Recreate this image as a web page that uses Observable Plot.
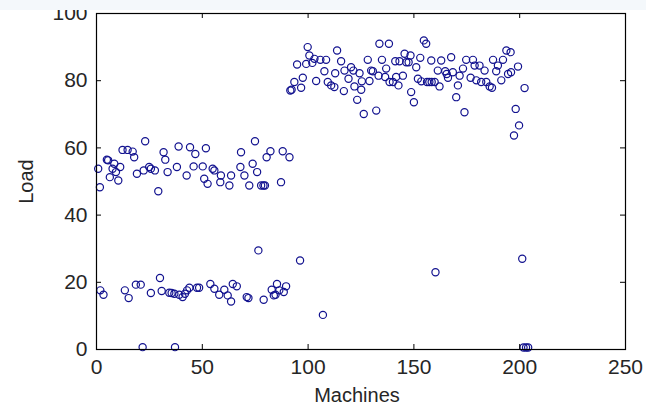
<!DOCTYPE html>
<html>
<head>
<meta charset="utf-8">
<script src="https://cdn.jsdelivr.net/npm/d3@7"></script>
<script src="https://cdn.jsdelivr.net/npm/@observablehq/plot@0.6"></script>
<style>
  html, body { margin: 0; padding: 0; background: #fff; }
  #chart { position: relative; width: 646px; height: 409px; overflow: hidden; }
  #chart svg { display: block; }
  #band { position: absolute; left: 0; top: 0; width: 646px; height: 10px; background: #f4f8fb; }
</style>
</head>
<body>
<div id="chart"></div>
<script>
// Tick values on each axis
const machineTicks = [0, 50, 100, 150, 200, 250];
const loadTicks = [0, 20, 40, 60, 80, 100];

// [machine, load] pairs, grouped by load level
const midBand = [
  [0.8, 53.8], [1.6, 48.3], [4.9, 56.5], [5.5, 56.3], [6.3, 51.3], [7.6, 53.8], [8.4, 55.3],
  [9.2, 52.8], [10.3, 50.3], [11.2, 54.3], [12.3, 59.4], [14.7, 59.4], [17.1, 58.9], [17.8, 57.2],
  [19.1, 52.3], [22.3, 53.3], [23.0, 62.0], [24.9, 54.3], [25.7, 53.8], [27.6, 53.3], [29.2, 47.1],
  [31.7, 58.7], [32.5, 56.5], [33.6, 52.8], [38.0, 54.3], [38.8, 60.4], [42.6, 51.8], [44.2, 60.2],
  [45.9, 54.5], [46.7, 58.2], [50.2, 54.5], [50.9, 50.8], [51.7, 59.9], [52.5, 49.3], [54.9, 53.8],
  [55.7, 53.3], [58.8, 51.8], [58.5, 49.8], [62.8, 48.8], [63.6, 51.8], [68.0, 54.3], [68.3, 58.7],
  [69.9, 51.8], [72.2, 48.8], [73.8, 55.3], [74.9, 62.0], [75.9, 52.8], [77.8, 48.8], [78.9, 48.8],
  [79.6, 48.8], [80.4, 57.2], [82.2, 59.0], [87.2, 49.8], [88.0, 59.0], [91.2, 57.2]
];

const lowBand = [
  [1.8, 17.6], [3.3, 16.3], [13.4, 17.6], [15.2, 15.3], [18.6, 19.3], [20.9, 19.3], [25.7, 16.8],
  [30.0, 21.3], [30.8, 17.4], [34.4, 16.9], [35.5, 16.8], [36.8, 16.6], [39.1, 16.3], [40.7, 15.6],
  [41.8, 16.6], [42.8, 17.6], [43.9, 18.4], [47.5, 18.4], [48.5, 18.4], [53.8, 19.5], [55.7, 18.1],
  [58.0, 16.3], [60.4, 17.8], [62.0, 16.1], [63.6, 14.3], [64.4, 19.5], [66.3, 18.8], [71.0, 15.6],
  [71.8, 15.3], [76.5, 29.5], [79.0, 14.8], [82.8, 17.8], [83.8, 16.1], [84.6, 16.3], [85.3, 19.5],
  [86.4, 17.6], [88.5, 17.1], [89.6, 18.8], [96.2, 26.5], [107.0, 10.3], [160.2, 23.0], [201.2, 27.0]
];

const highBand = [
  [91.6, 77.1], [92.2, 77.3], [93.5, 79.6], [94.8, 84.8], [96.7, 77.9], [97.5, 80.9], [99.8, 90.0],
  [99.1, 85.0], [100.6, 87.5], [102.0, 85.3], [103.0, 86.5], [103.8, 79.9], [105.8, 86.2], [108.5, 86.2],
  [107.7, 82.8], [109.3, 79.6], [110.9, 78.6], [112.4, 78.1], [113.7, 89.0], [112.8, 82.2], [115.6, 85.8],
  [116.9, 76.9], [117.2, 83.0], [119.1, 80.6], [120.3, 84.0], [121.4, 83.0], [121.9, 78.3], [123.2, 74.3],
  [124.3, 82.2], [125.1, 77.3], [125.4, 79.8], [126.3, 70.1], [128.2, 86.2], [129.0, 79.9], [129.8, 83.0],
  [130.6, 82.8], [132.2, 71.1], [133.3, 81.5], [133.7, 91.0], [134.9, 86.2], [136.4, 81.1], [136.9, 83.6],
  [138.2, 91.0], [138.5, 79.6], [140.1, 79.6], [141.2, 85.8], [141.6, 81.1], [142.7, 78.6], [143.2, 85.8],
  [144.8, 81.5], [145.6, 88.0], [146.4, 85.5], [147.5, 85.5], [148.4, 87.5], [148.7, 76.6], [150.0, 73.6],
  [151.1, 84.0], [151.9, 80.6], [153.0, 86.8], [153.5, 79.8], [154.7, 92.0], [155.8, 91.0], [156.2, 79.6],
  [157.3, 79.6], [158.2, 86.0], [158.4, 79.6], [159.8, 79.6], [161.3, 83.0], [162.1, 78.3], [162.9, 86.0],
  [164.8, 82.8], [165.5, 82.0], [166.1, 80.9], [167.6, 87.0], [168.4, 82.5], [170.0, 75.1], [170.8, 78.6],
  [171.6, 81.5], [173.2, 83.6], [173.9, 70.6], [174.7, 86.2], [176.8, 80.9], [177.9, 86.2], [178.7, 84.5],
  [179.5, 80.1], [181.0, 84.5], [181.8, 79.6], [183.4, 83.0], [184.2, 79.6], [185.8, 78.3], [186.9, 77.9],
  [187.4, 86.2], [188.9, 82.8], [189.7, 84.5], [191.3, 80.1], [192.1, 86.2], [193.7, 89.0], [194.5, 82.0],
  [195.7, 88.5], [195.9, 82.5], [198.1, 71.6], [197.3, 63.7], [199.7, 66.7], [199.2, 84.2], [202.3, 77.8]
];

const idle = [
  [21.8, 0.7], [37.1, 0.7], [201.8, 0.6], [203.0, 0.6], [204.0, 0.6]
];

const allPoints = [...midBand, ...lowBand, ...highBand, ...idle];

// Layout
const W = 646, H = 409;
const mL = 96, mR = 21, mT = 13, mB = 60;
const innerW = W - mL - mR, innerH = H - mT - mB;
const tickLen = 5;
const ink = "#000";
const textInk = "#262626";
const markerInk = "#12128f";

const chart = Plot.plot({
  width: W,
  height: H,
  marginLeft: mL,
  marginRight: mR,
  marginTop: mT,
  marginBottom: mB,
  style: {
    fontFamily: "'Liberation Sans', Arial, Helvetica, sans-serif",
    fontSize: "21px",
    color: textInk,
    background: "transparent"
  },
  x: {domain: [0, 250], ticks: machineTicks, tickSize: 0, tickPadding: 10, label: null},
  y: {domain: [0, 100], ticks: loadTicks, tickSize: 0, tickPadding: 9, label: null},
  marks: [
    Plot.dot(allPoints, {
      x: d => d[0],
      y: d => d[1],
      r: 3.6,
      stroke: markerInk,
      strokeWidth: 1.2,
      fill: "none"
    }),
    // inward ticks on all four sides
    Plot.ruleX(machineTicks, {x: d => d, stroke: ink, insetTop: innerH - tickLen}),
    Plot.ruleX(machineTicks, {x: d => d, stroke: ink, insetBottom: innerH - tickLen}),
    Plot.ruleY(loadTicks, {y: d => d, stroke: ink, insetRight: innerW - tickLen}),
    Plot.ruleY(loadTicks, {y: d => d, stroke: ink, insetLeft: innerW - tickLen}),
    Plot.frame({stroke: ink, strokeWidth: 1.2}),
    // axis titles
    Plot.text(["Machines"], {
      text: d => d,
      frameAnchor: "bottom",
      lineAnchor: "top",
      dy: 38,
      dx: -4,
      fontSize: 20,
      fill: textInk
    }),
    Plot.text(["Load"], {
      text: d => d,
      frameAnchor: "left",
      rotate: -90,
      textAnchor: "middle",
      lineAnchor: "middle",
      dx: -70,
      fontSize: 20,
      fill: textInk
    })
  ]
});

const holder = document.getElementById("chart");
holder.appendChild(chart);
const band = document.createElement("div");
band.id = "band";
holder.appendChild(band);
</script>
</body>
</html>
